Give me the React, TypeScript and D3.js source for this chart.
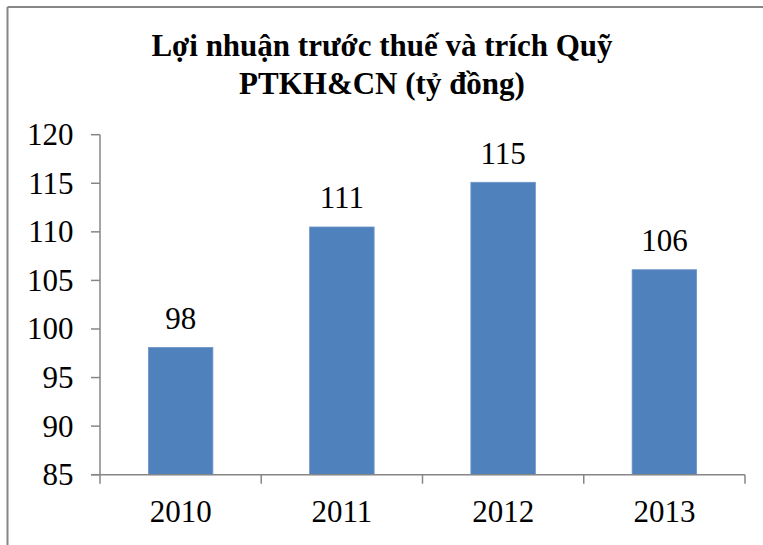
import React from "react";
import * as d3 from "d3";

const categories = ["2010", "2011", "2012", "2013"];
const values = [98.1, 110.5, 115.1, 106.1];
const valueLabels = ["98", "111", "115", "106"];
const yTicks = [85, 90, 95, 100, 105, 110, 115, 120];
const titleLines = ["Lợi nhuận trước thuế và trích Quỹ", "PTKH&CN (tỷ đồng)"];

const W = 763;
const H = 545;
const plot = { left: 100, right: 745, top: 134.7, bottom: 474.7 };
const font = "Liberation Serif, Times New Roman, Tinos, serif";
const axisColor = "#868686";
const ts = { fontFamily: font };
const numSize = 31;

export default function App() {
  const x = d3
    .scaleBand<string>()
    .domain(categories)
    .range([plot.left, plot.right])
    .paddingInner(0.6)
    .paddingOuter(0.3);
  const band = d3.scaleBand<string>().domain(categories).range([plot.left, plot.right]);
  const y = d3.scaleLinear().domain([85, 120]).range([plot.bottom, plot.top]);

  const boundaries = [...categories.map((c) => band(c) as number), plot.right];

  return (
    <svg
      width={W}
      height={H}
      style={{ position: "absolute", left: 0, top: 0, background: "#fff" }}
    >
      <rect x={0} y={0} width={W} height={H} fill="#fff" />
      <line x1={7.5} y1={7} x2={W} y2={7} stroke={axisColor} strokeWidth={2} />
      <line x1={7.5} y1={7} x2={7.5} y2={H} stroke={axisColor} strokeWidth={2} />

      <text textAnchor="middle" fontWeight="bold" fontSize={31} fill="#000" style={ts}>
        <tspan x={382} y={56}>{titleLines[0]}</tspan>
        <tspan x={382} y={94}>{titleLines[1]}</tspan>
      </text>

      {categories.map((c, i) => (
        <rect
          key={c}
          x={x(c)}
          y={y(values[i])}
          width={x.bandwidth()}
          height={plot.bottom - y(values[i])}
          fill="#4F81BD"
          stroke="#6E96C9"
          strokeWidth={0.8}
        />
      ))}

      {categories.map((c, i) => (
        <text
          key={c + "l"}
          x={(x(c) as number) + x.bandwidth() / 2}
          y={y(values[i]) - 18.5}
          textAnchor="middle"
          fontSize={numSize}
          fill="#000"
          style={ts}
        >
          {valueLabels[i]}
        </text>
      ))}

      <line x1={plot.left} y1={plot.top} x2={plot.left} y2={plot.bottom} stroke={axisColor} strokeWidth={1.5} />
      {yTicks.map((t) => (
        <g key={t}>
          <line x1={plot.left - 9} x2={plot.left} y1={y(t)} y2={y(t)} stroke={axisColor} strokeWidth={1.5} />
          <text x={73.5} y={y(t) + 10.5} textAnchor="end" fontSize={numSize} fill="#000" style={ts}>
            {t}
          </text>
        </g>
      ))}

      <line x1={plot.left - 9} x2={plot.right} y1={plot.bottom} y2={plot.bottom} stroke={axisColor} strokeWidth={1.5} />
      {boundaries.map((b, i) => (
        <line key={i} x1={b} x2={b} y1={plot.bottom} y2={plot.bottom + 9} stroke={axisColor} strokeWidth={1.5} />
      ))}
      {categories.map((c) => (
        <text
          key={c + "x"}
          x={(band(c) as number) + band.bandwidth() / 2}
          y={522}
          textAnchor="middle"
          fontSize={numSize}
          fill="#000"
          style={ts}
        >
          {c}
        </text>
      ))}
    </svg>
  );
}
